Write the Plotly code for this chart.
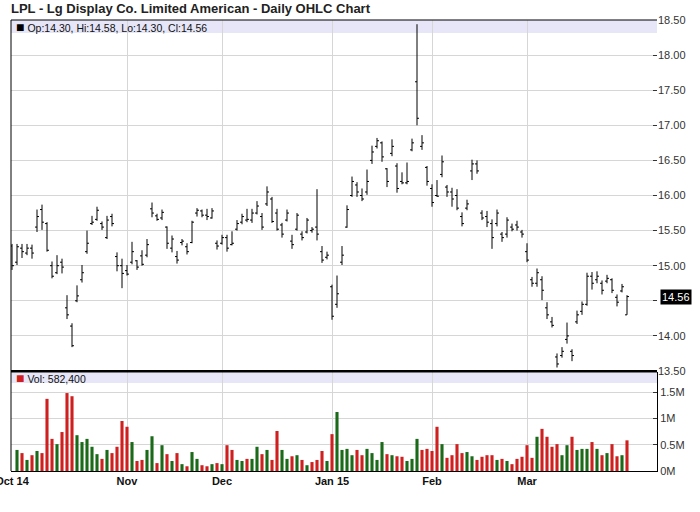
import pandas as pd
import plotly.graph_objects as go

# ---------------- data ----------------
holidays = ["2014-11-27", "2014-12-25", "2015-01-01", "2015-01-19", "2015-02-16"]
dates = [d.strftime("%Y-%m-%d") for d in
         pd.bdate_range("2014-10-01", "2015-03-30", freq="C", holidays=holidays)]

opens = [15.28, 15.05, 15.25, 15.18, 15.25, 15.55, 15.80, 15.60, 15.00, 14.90,
         15.05, 14.40, 14.14, 14.50, 14.80, 15.20, 15.60, 15.66, 15.60, 15.40,
         15.70, 15.13, 15.00, 14.93, 15.05, 15.07, 15.14, 15.15, 15.81, 15.71,
         15.68, 15.55, 15.25, 15.13, 15.33, 15.27, 15.33, 15.75, 15.78, 15.72,
         15.68, 15.32, 15.32, 15.40, 15.30, 15.52, 15.62, 15.65, 15.65, 15.75,
         15.70, 15.88, 15.95, 15.75, 15.58, 15.65, 15.35, 15.52, 15.45, 15.48,
         15.50, 15.55, 15.20, 15.12, 14.70, 14.45, 15.05, 15.55, 16.00, 16.15,
         16.00, 16.05, 16.50, 16.70, 16.75, 16.38, 16.60, 16.42, 16.20, 16.18,
         16.65, 17.62, 16.70, 16.40, 16.10, 16.00, 16.30, 16.12, 16.05, 16.00,
         15.70, 15.82, 16.35, 16.45, 15.75, 15.70, 15.60, 15.60, 15.45, 15.45,
         15.55, 15.58, 15.48, 15.20, 14.80, 14.75, 14.80, 14.40, 14.20, 13.70,
         13.72, 13.95, 13.78, 14.20, 14.35, 14.45, 14.85, 14.80, 14.75, 14.78,
         14.80, 14.55, 14.64, 14.30]
highs = [15.31, 15.31, 15.31, 15.31, 15.30, 15.80, 15.87, 15.62, 15.06, 15.15,
         15.10, 14.58, 14.18, 14.72, 15.01, 15.50, 15.71, 15.84, 15.63, 15.71,
         15.74, 15.19, 15.10, 15.01, 15.34, 15.08, 15.22, 15.38, 15.90, 15.74,
         15.80, 15.56, 15.43, 15.21, 15.38, 15.32, 15.64, 15.82, 15.80, 15.81,
         15.82, 15.36, 15.44, 15.44, 15.49, 15.65, 15.74, 15.81, 15.81, 15.92,
         15.75, 16.13, 15.98, 15.81, 15.61, 15.80, 15.44, 15.75, 15.49, 15.68,
         15.55, 16.09, 15.28, 15.20, 14.73, 14.86, 15.28, 15.86, 16.27, 16.19,
         16.10, 16.37, 16.71, 16.82, 16.77, 16.39, 16.80, 16.46, 16.33, 16.47,
         16.81, 18.44, 16.86, 16.42, 16.16, 16.22, 16.57, 16.15, 16.11, 16.09,
         15.76, 15.94, 16.51, 16.50, 15.79, 15.78, 15.66, 15.80, 15.48, 15.69,
         15.60, 15.64, 15.51, 15.32, 14.84, 14.96, 14.85, 14.48, 14.27, 13.75,
         13.84, 14.19, 13.81, 14.36, 14.49, 14.90, 14.91, 14.92, 14.79, 14.87,
         14.82, 14.59, 14.74, 14.58]
lows = [14.94, 15.01, 15.11, 15.15, 15.10, 15.48, 15.51, 15.20, 14.82, 14.88,
        14.89, 14.24, 13.84, 14.48, 14.76, 15.17, 15.58, 15.64, 15.51, 15.38,
        15.56, 14.92, 14.68, 14.86, 15.02, 14.94, 15.00, 15.12, 15.69, 15.64,
        15.65, 15.24, 15.19, 15.03, 15.29, 15.16, 15.32, 15.70, 15.69, 15.65,
        15.67, 15.23, 15.30, 15.20, 15.29, 15.50, 15.59, 15.62, 15.61, 15.73,
        15.51, 15.85, 15.61, 15.50, 15.40, 15.63, 15.24, 15.50, 15.36, 15.46,
        15.47, 15.36, 15.04, 15.09, 14.23, 14.40, 15.01, 15.54, 15.98, 15.98,
        15.92, 16.01, 16.45, 16.67, 16.48, 16.12, 16.56, 16.04, 16.16, 16.16,
        16.63, 17.00, 16.65, 16.14, 15.84, 15.98, 16.26, 15.98, 15.84, 15.79,
        15.56, 15.79, 16.22, 16.31, 15.65, 15.55, 15.24, 15.56, 15.34, 15.40,
        15.49, 15.50, 15.40, 15.05, 14.70, 14.70, 14.51, 14.24, 14.12, 13.55,
        13.69, 13.89, 13.64, 14.17, 14.30, 14.43, 14.66, 14.75, 14.59, 14.75,
        14.61, 14.42, 14.62, 14.30]
closes = [15.00, 15.27, 15.20, 15.25, 15.18, 15.70, 15.62, 15.22, 14.85, 15.00,
          14.98, 14.30, 13.86, 14.57, 14.90, 15.32, 15.62, 15.79, 15.55, 15.65,
          15.60, 15.00, 14.89, 14.88, 15.20, 14.98, 15.02, 15.30, 15.75, 15.66,
          15.76, 15.32, 15.38, 15.08, 15.35, 15.20, 15.62, 15.79, 15.72, 15.70,
          15.78, 15.28, 15.40, 15.25, 15.32, 15.60, 15.70, 15.66, 15.75, 15.85,
          15.55, 16.05, 15.63, 15.52, 15.45, 15.75, 15.30, 15.72, 15.40, 15.65,
          15.52, 15.45, 15.08, 15.15, 14.28, 14.60, 15.15, 15.80, 16.20, 16.05,
          15.95, 16.20, 16.62, 16.78, 16.55, 16.20, 16.70, 16.10, 16.18, 16.20,
          16.75, 17.10, 16.75, 16.20, 15.90, 15.99, 16.48, 16.05, 15.95, 15.82,
          15.60, 15.88, 16.45, 16.35, 15.68, 15.62, 15.40, 15.75, 15.40, 15.65,
          15.52, 15.55, 15.45, 15.08, 14.75, 14.90, 14.65, 14.30, 14.15, 13.60,
          13.78, 14.00, 13.72, 14.30, 14.45, 14.85, 14.75, 14.85, 14.65, 14.82,
          14.65, 14.48, 14.70, 14.56]

# volume in shares (first day not shown on the chart)
volume = [None,
          400000, 340000, 210000, 300000, 380000, 340000, 1370000, 610000, 510000, 740000,
          1480000, 1420000, 680000, 550000, 610000, 460000, 320000, 230000, 400000, 340000,
          460000, 950000, 840000, 550000, 190000, 210000, 400000, 660000, 150000, 490000,
          320000, 190000, 340000, 130000, 90000, 360000, 230000, 110000, 90000, 130000,
          150000, 130000, 490000, 400000, 210000, 190000, 230000, 230000, 460000, 320000,
          400000, 210000, 760000, 400000, 230000, 280000, 300000, 210000, 110000, 170000,
          210000, 380000, 190000, 700000, 1120000, 400000, 420000, 300000, 400000, 300000,
          420000, 340000, 210000, 550000, 320000, 300000, 280000, 270000, 190000, 230000,
          610000, 400000, 420000, 380000, 840000, 510000, 250000, 300000, 510000, 340000,
          360000, 280000, 210000, 270000, 300000, 300000, 210000, 230000, 190000, 130000,
          230000, 270000, 490000, 250000, 650000, 800000, 650000, 460000, 510000, 300000,
          490000, 650000, 400000, 420000, 420000, 550000, 420000, 300000, 340000, 510000,
          280000, 300000, 582400]
# 1 = up day (green volume), 0 = down day (red volume)
vol_up = [None,
          1, 0, 1, 0, 1, 0, 0, 0, 1, 0,
          0, 0, 1, 1, 1, 1, 1, 0, 1, 0,
          0, 0, 0, 1, 0, 0, 1, 1, 0, 1,
          0, 1, 0, 1, 0, 1, 1, 0, 0, 1,
          0, 1, 0, 0, 1, 1, 0, 1, 1, 0,
          1, 0, 0, 1, 1, 0, 1, 0, 1, 0,
          0, 0, 1, 0, 1, 1, 1, 1, 0, 0,
          1, 1, 1, 1, 0, 1, 0, 0, 1, 1,
          1, 0, 0, 0, 0, 1, 0, 0, 0, 0,
          1, 1, 0, 0, 0, 0, 1, 0, 1, 0,
          0, 0, 0, 0, 1, 0, 0, 0, 0, 1,
          1, 0, 1, 1, 1, 0, 1, 0, 1, 0,
          0, 1, 0]

month_labels = ["Oct 14", "Nov", "Dec", "Jan 15", "Feb", "Mar"]
price_ticks = [13.5, 14.0, 14.5, 15.0, 15.5, 16.0, 16.5, 17.0, 17.5, 18.0, 18.5]
vol_ticks = [0, 500000, 1000000, 1500000]
vol_tick_text = ["0M", "0.5M", "1M", "1.5M"]
title = "LPL - Lg Display Co. Limited American - Daily OHLC Chart"

# ---------------- derived ----------------
month_starts = []
seen = set()
for d in dates:
    if d[:7] not in seen:
        seen.add(d[:7])
        month_starts.append(d)

last_close = closes[-1]
SQ = '<span style="font-size:14px;color:%s">■</span>'
legend_text = (SQ % "#000") + " Op:%.2f, Hi:%.2f, Lo:%.2f, Cl:%.2f" % (
    opens[-1], highs[-1], lows[-1], closes[-1])
vol_text = (SQ % "#d01f1f") + " Vol: {:,}".format(volume[-1])

RED = "#d01f1f"
GREEN = "#1a6a1a"
vol_colors = [GREEN if u == 1 else RED for u in vol_up]

FONT = "Liberation Sans, Arial, sans-serif"
GRID = "#d6d6d6"
BAND = "#e6e6f8"

# ---------------- figure ----------------
fig = go.Figure()
fig.add_trace(go.Ohlc(
    x=dates, open=opens, high=highs, low=lows, close=closes,
    increasing=dict(line=dict(color="black", width=1)),
    decreasing=dict(line=dict(color="black", width=1)),
    tickwidth=0.4, xaxis="x", yaxis="y", hoverinfo="skip", showlegend=False))
fig.add_trace(go.Bar(
    x=dates, y=volume, marker=dict(color=vol_colors, line=dict(width=0)),
    xaxis="x2", yaxis="y2", hoverinfo="skip", showlegend=False))

W, H = 700, 512
ml, mr, mt, mb = 11, 43, 20, 41
ph = H - mt - mb


def py(ypx):
    return (H - mb - ypx) / ph


def px(xpx):
    return (xpx - ml) / (W - ml - mr)


price_dom = [py(371), 1.0]
vol_dom = [0.0, py(372)]

xr = [-0.2, 129]
fig.update_layout(
    template="none",
    width=W, height=H,
    margin=dict(l=ml, r=mr, t=mt, b=mb, pad=0),
    paper_bgcolor="white", plot_bgcolor="white",
    bargap=0.38,
    showlegend=False,
    font=dict(family=FONT, size=11, color="#333"),
    xaxis=dict(domain=[0, 1], anchor="y", type="category", range=xr,
               rangeslider=dict(visible=False), tickmode="array",
               tickvals=month_starts, showticklabels=False, ticks="",
               showgrid=True, gridcolor=GRID, gridwidth=1, showline=False,
               zeroline=False, automargin=False, fixedrange=True),
    xaxis2=dict(domain=[0, 1], anchor="y2", type="category", range=xr,
                matches="x", tickmode="array", tickvals=month_starts,
                ticktext=["<b>%s</b>" % t for t in month_labels],
                tickfont=dict(family=FONT, size=11, color="#111"),
                ticks="", showgrid=True, gridcolor=GRID, gridwidth=1,
                showline=True, linecolor="black", linewidth=1,
                zeroline=False, automargin=False, fixedrange=True),
    yaxis=dict(domain=price_dom, anchor="x", side="right", range=[13.5, 18.5],
               tickmode="array", tickvals=price_ticks,
               ticktext=["" if abs(v - 14.5) < 1e-9 else "%.2f" % v for v in price_ticks],
               ticks="inside", ticklen=4, tickcolor="#333",
               tickfont=dict(family=FONT, size=11, color="#333"),
               showgrid=True, gridcolor=GRID, gridwidth=1, showline=False,
               zeroline=False, automargin=False, fixedrange=True),
    yaxis2=dict(domain=vol_dom, anchor="x2", side="right", range=[0, 1880000],
                tickmode="array", tickvals=vol_ticks, ticktext=vol_tick_text,
                ticks="inside", ticklen=4, tickcolor="#333",
                tickfont=dict(family=FONT, size=11, color="#333"),
                showgrid=True, gridcolor=GRID, gridwidth=1,
                showline=True, linecolor="black", linewidth=1,
                zeroline=False, automargin=False, fixedrange=True),
)

shapes = [
    # legend bands
    dict(type="rect", xref="paper", yref="paper", x0=0, x1=1, y0=py(33), y1=1.0,
         fillcolor=BAND, line=dict(width=0), layer="below"),
    dict(type="rect", xref="paper", yref="paper", x0=0, x1=1, y0=py(383), y1=py(372.5),
         fillcolor=BAND, line=dict(width=0), layer="below"),
    # frame lines
    dict(type="line", xref="paper", yref="paper", x0=0, x1=0, y0=0, y1=1,
         line=dict(color="black", width=1)),
    dict(type="line", xref="paper", yref="paper", x0=0, x1=1, y0=1, y1=1,
         line=dict(color="black", width=1)),
    dict(type="line", xref="paper", yref="paper", x0=0, x1=1, y0=py(371.2), y1=py(371.2),
         line=dict(color="black", width=2.5)),
]

annotations = [
    dict(xref="paper", yref="paper", x=px(9), y=py(9), xanchor="left", yanchor="middle",
         text="<b>%s</b>" % title, showarrow=False,
         font=dict(family=FONT, size=13, color="#222")),
    dict(xref="paper", yref="paper", x=px(13.5), y=py(27), xanchor="left", yanchor="middle",
         text=legend_text, showarrow=False,
         font=dict(family=FONT, size=10.5, color="#111")),
    dict(xref="paper", yref="paper", x=px(13.5), y=py(378), xanchor="left", yanchor="middle",
         text=vol_text, showarrow=False,
         font=dict(family=FONT, size=10.5, color="#111")),
    dict(xref="paper", yref="y", x=1, y=last_close, xanchor="left", yanchor="middle",
         xshift=3, text="%.2f" % last_close, showarrow=False, bgcolor="black",
         borderpad=1, font=dict(family=FONT, size=11, color="white")),
]

fig.update_layout(shapes=shapes, annotations=annotations)
fig.write_html(
    "out.html",
    config={"displayModeBar": False, "staticPlot": True},
    post_script="document.body.style.margin='0px';document.body.style.overflow='hidden';",
)
